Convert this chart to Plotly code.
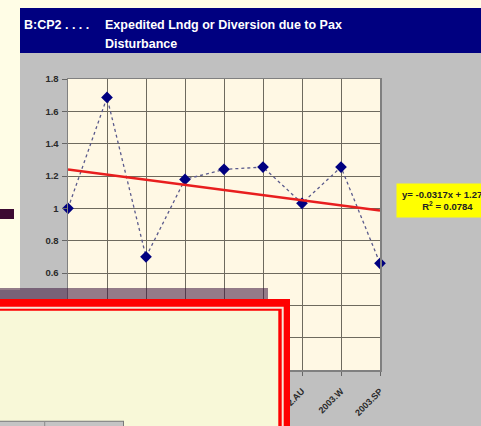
import plotly.graph_objects as go

# ---- data ----
categories = ["2001.SP", "2001.SU", "2001.AU", "2002.W", "2002.SP",
              "2002.SU", "2002.AU", "2003.W", "2003.SP"]
values = [1.00, 1.686, 0.70, 1.179, 1.241, 1.255, 1.031, 1.255, 0.66]
trend_slope = -0.0317
trend_intercept = 1.2723
y_ticks = [0, 0.2, 0.4, 0.6, 0.8, 1.0, 1.2, 1.4, 1.6, 1.8]
title_prefix = "B:CP2 . . . ."
title_line1 = "Expedited Lndg or Diversion due to Pax"
title_line2 = "Disturbance"
eq_text = "y= -0.0317x + 1.2723<br>R<sup>2</sup> = 0.0784"

# ---- geometry (pixels) ----
W, H = 481, 426
L, R, T, B = 68, 101, 79, 56
PW, PH = W - L - R, H - T - B


def xp(px):
    return (px - L) / PW


def yp(py):
    return (H - B - py) / PH


trend_x = [1, len(categories)]
trend_y = [trend_slope * v + trend_intercept for v in trend_x]

fig = go.Figure()
fig.add_trace(go.Scatter(
    x=categories, y=values, mode="lines+markers",
    line=dict(color="#5a5a8c", width=1.3, dash="dot"),
    marker=dict(symbol="diamond", size=9, color="#000080",
                line=dict(color="#000080", width=0)),
    cliponaxis=False, showlegend=False, hoverinfo="skip"))
fig.add_trace(go.Scatter(
    x=[categories[0], categories[-1]], y=trend_y, mode="lines",
    line=dict(color="#e81e1e", width=2.6),
    cliponaxis=False, showlegend=False, hoverinfo="skip"))

font_ax = dict(family="Liberation Sans, Arial", size=9, color="#2a2a2a",
               weight="bold")

fig.update_layout(
    width=W, height=H, autosize=False,
    margin=dict(l=L, r=R, t=T, b=B, pad=0, autoexpand=False),
    paper_bgcolor="#c0c0c0",
    plot_bgcolor="#fff8e4",
    xaxis=dict(type="category", range=[0, len(categories) - 1],
               automargin=False,
               showgrid=True, gridcolor="#6e6a5e", gridwidth=1,
               showline=True, linecolor="#808080", linewidth=1.5, mirror=True,
               ticks="outside", ticklen=4, tickcolor="#666666",
               tickangle=-45, tickfont=font_ax, ticklabelstandoff=7,
               zeroline=False, fixedrange=True),
    yaxis=dict(range=[0, 1.8], tickvals=y_ticks, automargin=False,
               showgrid=True, gridcolor="#6e6a5e", gridwidth=1,
               showline=True, linecolor="#808080", linewidth=1.5, mirror=True,
               ticks="outside", ticklen=5, tickcolor="#666666",
               tickfont=dict(font_ax, size=9.5), ticklabelstandoff=1,
               zeroline=False, fixedrange=True),
)

shapes = []


def rect(x0, y0, x1, y1, color, layer="above"):
    shapes.append(dict(type="rect", xref="paper", yref="paper",
                       x0=xp(x0), x1=xp(x1), y0=yp(y1), y1=yp(y0),
                       fillcolor=color, line=dict(width=0), layer=layer))


# background pieces
rect(-2, -2, W + 2, 8, "#fffde6", "below")
rect(-2, -2, 20, 290, "#fffde6", "below")
rect(20, 8, W + 2, 53, "#000080", "below")

# overlay elements
rect(0, 209, 14, 219, "#3c0a32")
rect(-2, 288, 268, 299, "rgba(60,20,60,0.55)")
rect(-2, 299, 290, H + 2, "#ff0000")
rect(-2, 306.7, 283.7, H + 2, "#f6e6d6")
rect(-2, 308.7, 281.7, H + 2, "#ff0000")
rect(-2, 310.7, 278.3, H + 2, "#f8f8d8")
# bottom table fragment
rect(-2, 420.7, 124, H + 2, "#7a7a7a")
rect(-2, 421.7, 123, H + 2, "#c4c4c4")
rect(44.2, 421.7, 45.2, H + 2, "#8a8a8a")

fig.update_layout(shapes=shapes)

title_font = dict(family="Liberation Sans, Arial", size=12.5, color="white",
                  weight="bold")
ann = [
    dict(text=title_prefix, x=xp(22), y=yp(25), xanchor="left",
         yanchor="middle", font=title_font),
    dict(text=title_line1, x=xp(103), y=yp(25), xanchor="left",
         yanchor="middle", font=title_font),
    dict(text=title_line2, x=xp(103), y=yp(44), xanchor="left",
         yanchor="middle", font=title_font),
    dict(text=eq_text, x=xp(396), y=yp(200), xanchor="left",
         yanchor="middle", align="center", bgcolor="#ffff00",
         borderpad=5,
         font=dict(family="Liberation Sans, Arial", size=9.5,
                   color="#222222", weight="bold")),
]
for a in ann:
    a.update(xref="paper", yref="paper", showarrow=False)
fig.update_layout(annotations=ann)

fig.write_html(
    "out.html",
    config={"displayModeBar": False, "staticPlot": True},
    post_script="document.body.style.margin='0';"
                "document.body.style.overflow='hidden';")
